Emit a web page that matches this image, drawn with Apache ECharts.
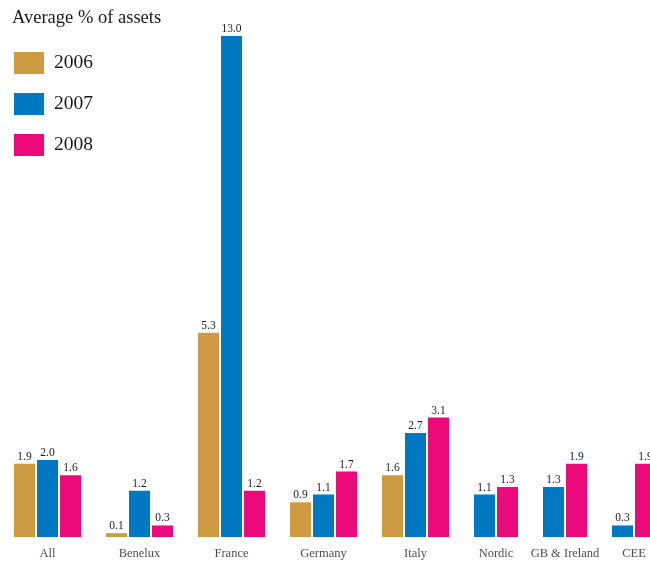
<!DOCTYPE html>
<html>
<head>
<meta charset="utf-8">
<script src="https://cdn.jsdelivr.net/npm/echarts@6/dist/echarts.min.js"></script>
<style>
  html, body { margin: 0; padding: 0; background: #fff; }
  #chart { width: 650px; height: 562px; }
</style>
</head>
<body>
<div id="chart"></div>
<script>
// Regions and yearly averages (% of assets); null = no figure for that year
const regions = ['All', 'Benelux', 'France', 'Germany', 'Italy', 'Nordic', 'GB & Ireland', 'CEE'];
const years = ['2006', '2007', '2008'];
const values2006 = [1.9, 0.1, 5.3, 0.9, 1.6, null, null, null];
const values2007 = [2.0, 1.2, 13.0, 1.1, 2.7, 1.1, 1.3, 0.3];
const values2008 = [1.6, 0.3, 1.2, 1.7, 3.1, 1.3, 1.9, 1.9];
const colors = ['#cf9b42', '#0079c2', '#ec0a7b'];

const byYear = [values2006, values2007, values2008];

// Lay bars out slot by slot: each region takes one slot per available year,
// followed by one empty slot as the gap before the next region.
const barData = years.map(() => []);
const labelData = [];
let slot = 0;
regions.forEach((name, r) => {
  const first = slot;
  byYear.forEach((vals, y) => {
    if (vals[r] != null) {
      barData[y].push([slot, vals[r]]);
      slot += 1;
    }
  });
  labelData.push({ value: [(first + slot - 1) / 2, 0], name: name });
  slot += 1;
});

// The last group runs slightly past the right edge of the canvas
const gridLeft = 13;
const slotPx = 23;
const gridWidth = 650 - gridLeft;
const visibleSlots = gridWidth / slotPx;

const serif = '"Liberation Serif", "DejaVu Serif", serif';

const chart = echarts.init(document.getElementById('chart'), null, { renderer: 'canvas' });
chart.setOption({
  animation: false,
  color: colors,
  title: {
    text: 'Average % of assets',
    left: 12,
    top: 9,
    padding: 0,
    textStyle: { fontFamily: serif, fontSize: 18.5, fontWeight: 'normal', color: '#1a1a1a' }
  },
  legend: {
    data: years,
    orient: 'vertical',
    left: 14,
    top: 52,
    padding: 0,
    itemWidth: 30,
    itemHeight: 22,
    itemGap: 19,
    icon: 'rect',
    textStyle: { fontFamily: serif, fontSize: 19.5, color: '#1a1a1a', padding: [0, 0, 0, 5] }
  },
  grid: { left: gridLeft, top: 36, right: 0, height: 501, containLabel: false },
  xAxis: {
    type: 'value',
    min: -0.5,
    max: -0.5 + visibleSlots,
    show: false
  },
  yAxis: {
    type: 'value',
    min: 0,
    max: 13,
    show: false
  },
  series: years.map((yr, i) => ({
    name: yr,
    type: 'bar',
    barWidth: 21,
    barGap: '-100%',
    clip: false,
    data: barData[i],
    itemStyle: { color: colors[i] },
    label: {
      show: true,
      position: 'top',
      distance: 1,
      fontFamily: serif,
      fontSize: 11.5,
      color: '#1a1a1a',
      formatter: p => p.value[1].toFixed(1)
    }
  })).concat([{
    type: 'scatter',
    symbolSize: 0,
    silent: true,
    clip: false,
    data: labelData,
    label: {
      show: true,
      position: 'bottom',
      distance: 10,
      fontFamily: serif,
      fontSize: 12.5,
      color: '#1a1a1a',
      formatter: p => p.name
    }
  }])
});
</script>
</body>
</html>
